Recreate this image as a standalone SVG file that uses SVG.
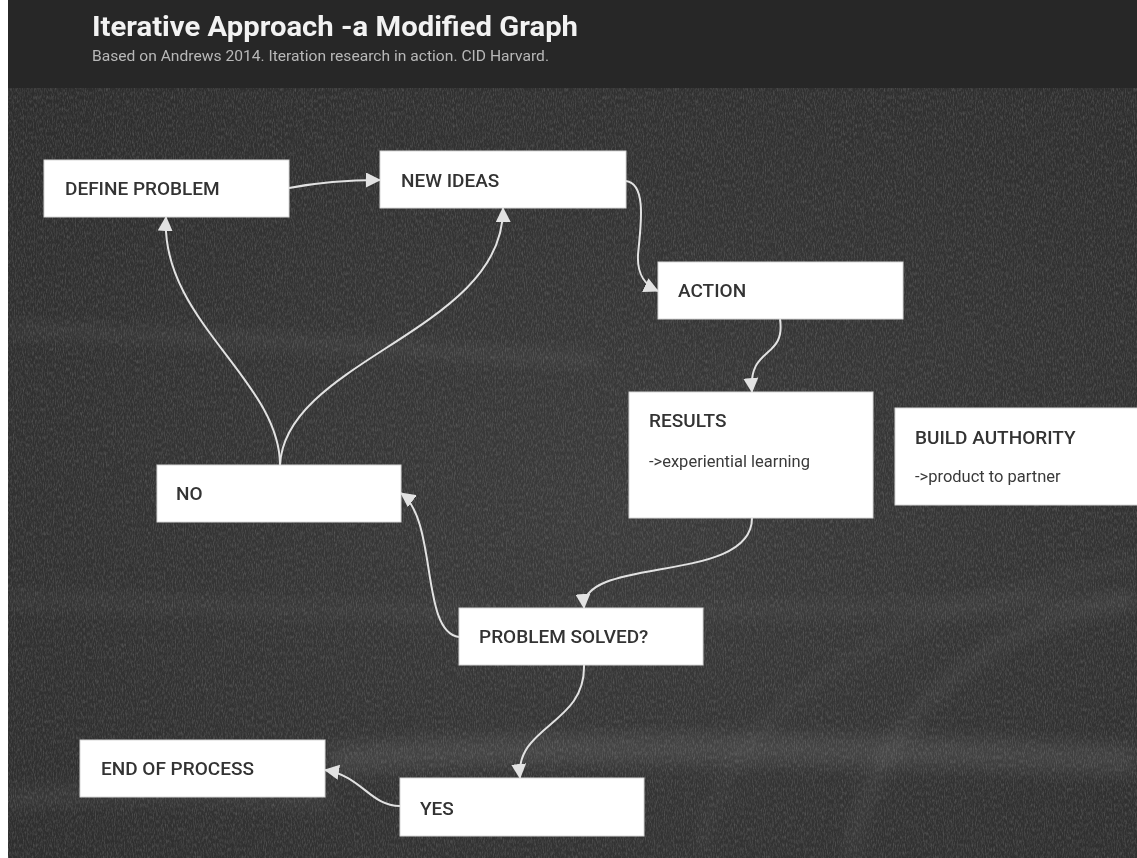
<svg xmlns="http://www.w3.org/2000/svg" width="1137" height="858" viewBox="0 0 1137 858">
<style>
.box{fill:#ffffff;stroke:#d8d8d8;stroke-width:1}
.t{font-family:Roboto,"Liberation Sans",sans-serif;font-weight:500;font-size:19px;fill:#333333}
.s{font-family:Roboto,"Liberation Sans",sans-serif;font-weight:400;font-size:16.5px;fill:#3a3a3a}
.c{fill:none;stroke:#e2e2e2;stroke-width:2}
.streak{fill:none;stroke:#ffffff}
</style>
<defs>
<marker id="ah" markerWidth="15" markerHeight="15" refX="14" refY="7.5" orient="auto" markerUnits="userSpaceOnUse">
<path d="M0,0 L15,7.5 L0,15 Z" fill="#e2e2e2"/>
</marker>
<filter id="noise" x="0" y="0" width="100%" height="100%">
<feTurbulence type="fractalNoise" baseFrequency="0.9 0.25" numOctaves="3" seed="4" result="n"/>
<feColorMatrix type="matrix" values="0 0 0 0 1  0 0 0 0 1  0 0 0 0 1  0 0 0.9 0 -0.35"/>
</filter>
<filter id="blur" filterUnits="userSpaceOnUse" x="0" y="80" width="1137" height="778">
<feGaussianBlur stdDeviation="8"/>
</filter>
<radialGradient id="bg" cx="0.55" cy="0.55" r="0.75">
<stop offset="0" stop-color="#3b3b3b"/>
<stop offset="1" stop-color="#2d2d2d"/>
</radialGradient>
</defs>
<rect x="0" y="0" width="1137" height="858" fill="#ffffff"/>
<rect x="8" y="88" width="1129" height="770" fill="url(#bg)"/>
<g filter="url(#blur)">
<path class="streak" d="M8,330 C200,335 400,350 600,360" stroke-width="10" opacity="0.07"/>
<path class="streak" d="M8,600 C300,610 600,620 1137,600" stroke-width="16" opacity="0.04"/>
<path class="streak" d="M330,760 C500,745 800,745 1137,760" stroke-width="30" opacity="0.08"/>
<path class="streak" d="M8,800 C100,790 200,790 330,800" stroke-width="20" opacity="0.05"/>
<path class="streak" d="M850,858 C880,700 1000,620 1137,600" stroke-width="14" opacity="0.05"/>
<path class="streak" d="M700,858 C720,720 850,620 1137,560" stroke-width="10" opacity="0.04"/>
</g>
<rect x="8" y="88" width="1129" height="770" filter="url(#noise)" opacity="0.35"/>
<rect x="8" y="0" width="1129" height="88" fill="#272727"/>
<text x="92" y="36" font-family="Roboto,'Liberation Sans',sans-serif" font-weight="700" font-size="28" fill="#f2f2f2" textLength="486" lengthAdjust="spacingAndGlyphs">Iterative Approach -a Modified Graph</text>
<text x="92" y="61" font-family="Roboto,'Liberation Sans',sans-serif" font-size="15" fill="#b8b8b8" textLength="457" lengthAdjust="spacingAndGlyphs">Based on Andrews 2014. Iteration research in action. CID Harvard.</text>

<g id="connectors">
<path class="c" d="M289,188 C320,182 345,180 380,180" marker-end="url(#ah)"/>
<path class="c" d="M626,181 C648,184 640,230 638,255 C637,275 645,285 658,291" marker-end="url(#ah)"/>
<path class="c" d="M780,319 C786,360 748,345 752,392" marker-end="url(#ah)"/>
<path class="c" d="M752,518 C752,585 580,555 584,608" marker-end="url(#ah)"/>
<path class="c" d="M459,637 C420,632 438,520 401,493" marker-end="url(#ah)"/>
<path class="c" d="M280,465 C280,380 160,320 166,217" marker-end="url(#ah)"/>
<path class="c" d="M280,465 C285,360 505,330 503,208" marker-end="url(#ah)"/>
<path class="c" d="M584,665 C586,725 515,725 520,778" marker-end="url(#ah)"/>
<path class="c" d="M400,806 C370,806 362,776 325,770" marker-end="url(#ah)"/>
</g>

<g id="define-problem"><rect class="box" x="44" y="160" width="245" height="57"/><text class="t" x="65" y="195">DEFINE PROBLEM</text></g>
<g id="new-ideas"><rect class="box" x="380" y="151" width="246" height="57"/><text class="t" x="401" y="187">NEW IDEAS</text></g>
<g id="action"><rect class="box" x="658" y="262" width="245" height="57"/><text class="t" x="678" y="297">ACTION</text></g>
<g id="results"><rect class="box" x="629" y="392" width="244" height="126"/><text class="t" x="649" y="427">RESULTS</text><text class="s" x="649" y="467">-&gt;experiential learning</text></g>
<g id="build-authority"><rect class="box" x="895" y="408" width="245" height="97"/><text class="t" x="915" y="444">BUILD AUTHORITY</text><text class="s" x="915" y="482">-&gt;product to partner</text></g>
<g id="no"><rect class="box" x="157" y="465" width="244" height="57"/><text class="t" x="176" y="500">NO</text></g>
<g id="problem-solved"><rect class="box" x="459" y="608" width="244" height="57"/><text class="t" x="479" y="643">PROBLEM SOLVED?</text></g>
<g id="end-of-process"><rect class="box" x="80" y="740" width="245" height="57"/><text class="t" x="101" y="775">END OF PROCESS</text></g>
<g id="yes"><rect class="box" x="400" y="778" width="244" height="58"/><text class="t" x="420" y="815">YES</text></g>
</svg>
